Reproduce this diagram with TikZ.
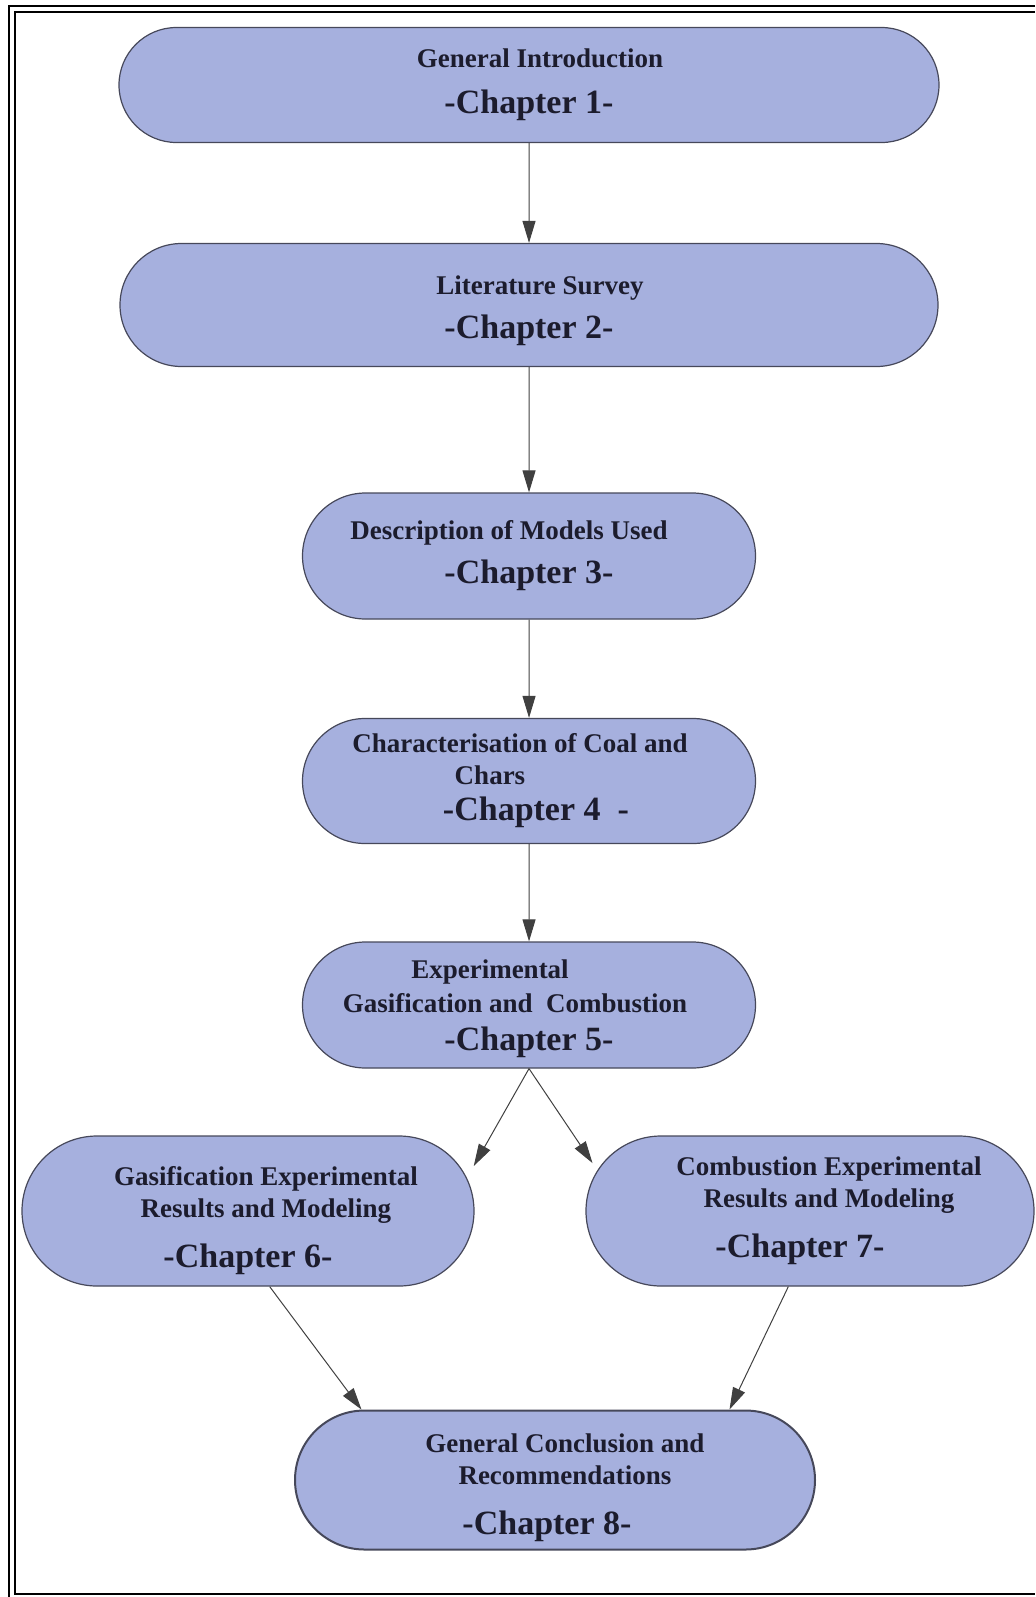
\documentclass[tikz,border=0pt]{standalone}
\usepackage{fontspec}
\setmainfont{Liberation Serif}
\usetikzlibrary{shapes.misc,arrows.meta}
\definecolor{boxfill}{RGB}{166,176,222}
\definecolor{boxline}{RGB}{70,72,90}
\definecolor{inktext}{RGB}{28,28,45}
\newcommand{\chapline}[1]{{\fontsize{17}{20}\selectfont #1}}
% push a line right (space before) or left (space after)
\newcommand{\pushr}[2]{\hbox{\kern#1#2}}
\newcommand{\pushl}[2]{\hbox{#2\kern#1}}
\begin{document}
\begin{tikzpicture}[x=0.5pt,y=-0.5pt,
    chapbox/.style={rounded rectangle,draw=boxline,fill=boxfill,line width=0.6pt,
      align=center,text=inktext,inner sep=0pt,
      font=\bfseries\fontsize{13.5}{16}\selectfont},
    flow/.style={draw=black!75,line width=0.5pt,-{Triangle[length=11pt,width=6.5pt]}}]
                \useasboundingbox (0,0) rectangle (1035,1597);
                %FRAME
                \draw[line width=1pt] (1035,6) -- (9,6) -- (9,1597);
                \draw[line width=1.2pt] (1035,12) -- (15,12) -- (15,1594) -- (1035,1594);

                %NODE
                \node[chapbox,minimum width=410pt,minimum height=57.5pt] (ch1) at (529,85)
                  {\pushr{11pt}{General Introduction}\\[7pt]\chapline{-Chapter 1-}};
                \node[chapbox,minimum width=409pt,minimum height=61.5pt] (ch2) at (529,305)
                  {\pushr{11pt}{\rule{0pt}{15pt}Literature Survey}\\[6pt]\chapline{-Chapter 2-}};
                \node[chapbox,minimum width=226.5pt,minimum height=63pt] (ch3) at (529,556)
                  {\pushl{20pt}{Description of Models Used}\\[6pt]\chapline{-Chapter 3-}};
                \node[chapbox,minimum width=226.5pt,minimum height=62.5pt] (ch4) at (529,781)
                  {\pushl{9pt}{Characterisation of Coal and}\\\pushl{39pt}{Chars}\\[2pt]\chapline{\pushr{7pt}{-Chapter 4\ \ -}}};
                \node[chapbox,minimum width=226.5pt,minimum height=63pt] (ch5) at (529,1005)
                  {\pushl{39pt}{\rule{0pt}{13pt}Experimental}\\[1pt]\pushl{14pt}{Gasification and\ \ Combustion}\\[3pt]\chapline{-Chapter 5-}};
                \node[chapbox,minimum width=226pt,minimum height=75pt] (ch6) at (248,1211)
                  {\pushr{18pt}{\rule{0pt}{19pt}Gasification Experimental}\\\pushr{18pt}{Results and Modeling}\\[9pt]\chapline{-Chapter 6-}};
                \node[chapbox,minimum width=224pt,minimum height=75pt] (ch7) at (810,1211)
                  {\pushr{19pt}{Combustion Experimental}\\\pushr{19pt}{Results and Modeling}\\[9pt]\chapline{\pushl{10pt}{-Chapter 7-}}};
                \node[chapbox,minimum width=260pt,minimum height=69.5pt,line width=1pt] (ch8) at (555,1480)
                  {\pushr{10pt}{\rule{0pt}{17pt}General Conclusion and}\\\pushr{10pt}{Recommendations}\\[9pt]\chapline{\pushl{8pt}{-Chapter 8-}}};

                %EDGE
                \draw[flow] (ch1) -- (ch2);
                \draw[flow] (ch2) -- (ch3);
                \draw[flow] (ch3) -- (ch4);
                \draw[flow] (ch4) -- (ch5);
                \draw[flow] (ch5.south) -- ([xshift=7pt]ch6.12);
                \draw[flow] (ch5.south) -- ([xshift=-5pt]ch7.167);
                \draw[flow] (ch6.-74) -- (ch8.160);
                \draw[flow] (ch7.-106) -- (ch8.22);
            \end{tikzpicture}
\end{document}
